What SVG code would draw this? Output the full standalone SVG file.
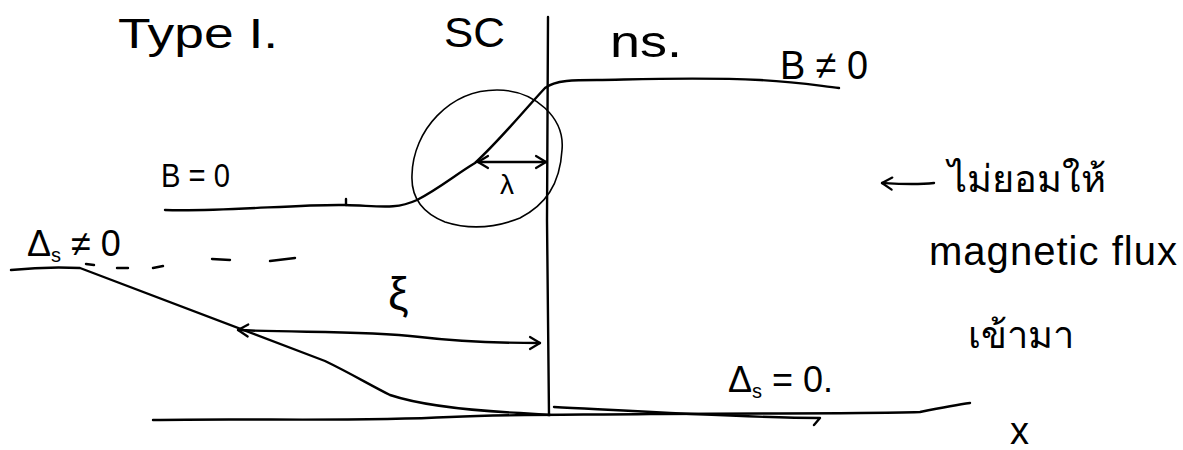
<svg xmlns="http://www.w3.org/2000/svg" width="1183" height="450" viewBox="0 0 1183 450">
<style>
.ln{fill:none;stroke:#000;stroke-width:2.4;stroke-linecap:round;stroke-linejoin:round}
.th{fill:none;stroke:#000;stroke-width:1.6;stroke-linecap:round}
.t{font-family:"Liberation Sans","Noto Sans","DejaVu Sans",sans-serif;fill:#000}
</style>
<defs>
<marker id="oa" viewBox="-12 -8 14 16" refX="0" refY="0" markerWidth="14" markerHeight="16" markerUnits="userSpaceOnUse" orient="auto-start-reverse">
<path d="M-10,-6 L0,0 L-10,6" fill="none" stroke="#000" stroke-width="2.2" stroke-linecap="round" stroke-linejoin="round"/>
</marker>
</defs>
<rect width="1183" height="450" fill="#fff"/>
<g id="labels">
<text class="t" x="118" y="48" font-size="42" textLength="160" lengthAdjust="spacingAndGlyphs">Type I.</text>
<text class="t" x="444" y="47" font-size="42" textLength="61" lengthAdjust="spacingAndGlyphs">SC</text>
<text class="t" x="610" y="57" font-size="44" textLength="72" lengthAdjust="spacingAndGlyphs">ns.</text>
<text class="t" x="780" y="79" font-size="40" textLength="88" lengthAdjust="spacingAndGlyphs">B ≠ 0</text>
<text class="t" x="161" y="187" font-size="34" textLength="69" lengthAdjust="spacingAndGlyphs">B = 0</text>
<text class="t" x="27" y="256" font-size="36">Δ<tspan font-size="20" dy="6">s</tspan><tspan dy="-6"> ≠ 0</tspan></text>
<text class="t" x="728" y="392" font-size="36">Δ<tspan font-size="20" dy="6">s</tspan><tspan dy="-6"> = 0.</tspan></text>
<text class="t" x="500" y="194" font-size="28">λ</text>
<text class="t" x="388" y="310" font-size="46">ξ</text>
<text class="t" x="1010" y="444" font-size="38">x</text>
<text class="t" x="948" y="192" font-size="38">ไม่ยอมให้</text>
<text class="t" x="929" y="265" font-size="40" textLength="248" lengthAdjust="spacing">magnetic flux</text>
<text class="t" x="968" y="348" font-size="38">เข้ามา</text>
</g>
<g id="connectors">
<path class="ln" d="M548,17 L547,220 L549,415"/>
<path class="ln" d="M165,210 C220,212 300,204 345,205 C380,206 395,210 417,200 C440,188 455,175 475,163 C500,140 520,115 545,88 C555,80 575,80 597,80 C650,79 700,77 760,80 C800,82 820,86 839,88"/>
<path class="ln" d="M346,199 L346,205"/>
<path class="th" d="M497,90 C535,90 565,118 562,150 C560,185 545,205 520,218 C495,228 470,230 445,222 C420,212 411,195 412,175 C413,130 450,90 497,90"/>
<path class="ln" d="M478,162 L546,162" marker-start="url(#oa)" marker-end="url(#oa)"/>
<path class="ln" d="M11,270 C30,268 60,267 80,268 L325,361 C350,373 370,385 390,395 C420,405 460,410 520,413 L550,415"/>
<path class="ln" d="M86,264 L94,265 M117,268 L128,268 M153,268 L163,266 M212,259 L230,260 M270,261 L295,258"/>
<path class="ln" d="M238,330 C300,333 360,330 420,337 C470,343 510,343 540,343" marker-start="url(#oa)" marker-end="url(#oa)"/>
<path class="ln" d="M153,420 C250,418 350,422 450,417 C520,414 580,415 650,414 C750,413 850,414 920,412 C940,408 955,405 970,403"/>
<path class="ln" d="M554,407 C650,412 750,418 820,418 L814,425"/>
<path class="ln" d="M934,183 C915,185 900,184 882,183" marker-end="url(#oa)"/>
</g>
</svg>
